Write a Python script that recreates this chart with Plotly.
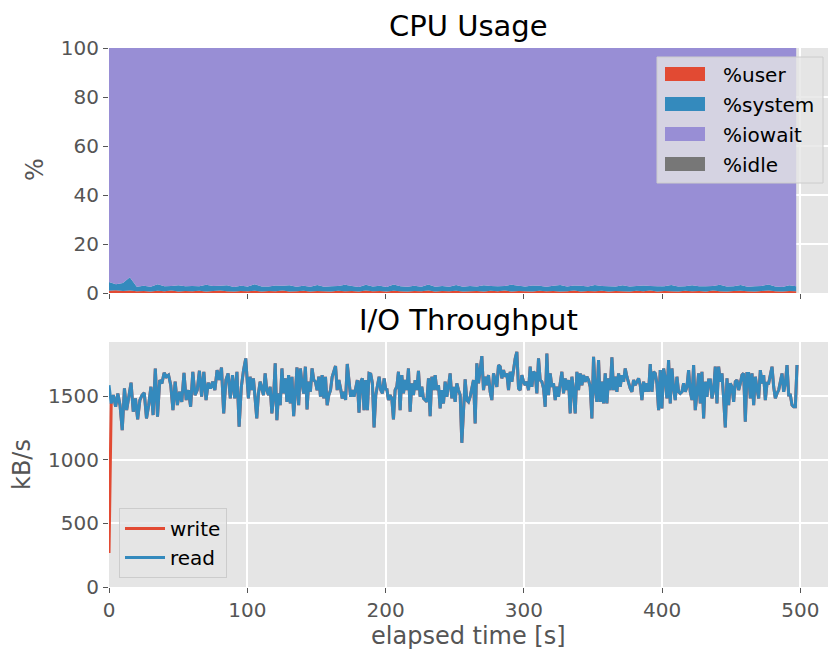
import numpy as np
import plotly.graph_objects as go

# ---------------- data ----------------
cpu_t_end = 497.0
cpu_user = [0.9,1.1,0.8,1.0,0.7,0.8,0.6,0.9,0.7,1.0, 0.6,0.8,0.7,0.9,0.6,0.8,1.0,0.7,0.6,0.8,
            0.7,0.9,0.6,0.8,0.7,1.0,0.6,0.7,0.9,0.6, 0.8,0.7,0.6,0.9,0.7,0.8,0.6,1.0,0.7,0.8,
            0.6,0.9,0.7,0.6,0.8,0.7,1.0,0.6,0.8,0.7, 0.9,0.6,0.7,0.8,0.6,0.9,0.7,1.0,0.6,0.8,
            0.7,0.6,0.9,0.7,0.8,0.6,0.7,1.0,0.6,0.8, 0.7,0.9,0.6,0.8,0.7,0.6,0.9,0.7,1.0,0.6,
            0.8,0.7,0.6,0.9,0.7,0.8,0.6,1.0,0.7,0.6, 0.8,0.9,0.7,0.6,0.8,1.0,0.7,0.6,0.8,0.7]
cpu_system = [3.6,2.5,3.3,5.4,1.9,2.2,2.0,2.7,2.1,1.9, 2.6,2.0,2.2,1.9,2.8,2.1,2.0,2.5,1.9,2.2,
              2.0,2.7,2.1,1.9,2.4,2.0,2.6,1.9,2.1,2.0, 2.5,1.9,2.2,2.0,2.7,2.1,1.9,2.4,2.0,2.2,
              1.9,2.6,2.1,2.0,2.2,1.9,2.5,2.0,2.1,1.9, 2.4,2.0,2.2,1.9,2.6,2.0,2.1,1.9,2.8,2.2,
              2.0,2.5,2.1,1.9,2.2,2.7,2.0,2.1,2.4,1.9, 2.6,2.0,2.2,1.9,2.5,2.1,2.0,2.4,1.9,2.2,
              2.0,2.6,2.1,1.9,2.5,2.0,2.2,1.9,2.7,2.1, 2.0,2.4,1.9,2.2,2.1,2.5,2.0,1.9,2.4,2.1]
cpu_idle = [0.0] * len(cpu_user)
cpu_iowait = [100.0 - u - s - i for u, s, i in zip(cpu_user, cpu_system, cpu_idle)]
cpu_names = ['%user', '%system', '%iowait', '%idle']

read_000_100 = [1586,1442,1508,1416,1521,1429,1233,1560,1390,1508,1605,1377,1482,1317,1469,1508,1526,1324,
                1429,1573,1351,1717,1338,1626,1600,1683,1652,1665,1586,1390,1613,1429,1534,1455,1683,1469,
                1547,1416,1691,1508,1547,1699,1495,1691,1469,1605,1560,1613,1547,1704,1626,1725,1364,1626,
                1678,1482,1665,1482,1691,1259,1573,1704,1796]
read_100_200 = [1678,1482,1652,1547,1639,1455,1324,1521,1613,1560,1508,1678,1547,1508,1573,1364,1482,1757,
                1311,1521,1429,1717,1521,1639,1455,1665,1442,1652,1343,1521,1725,1429,1717,1600,1521,1731,
                1395,1613,1534,1717,1626,1613,1547,1652,1495,1665,1482,1652,1429,1508,1547,1652,1691,1736,
                1547,1626,1560,1482,1534,1469,1752,1639,1495,1547,1495,1560,1626,1369,1613,1639,1390,1626,
                1390,1678,1673,1600,1254,1508,1573,1652,1547,1521,1639,1547]
read_200_300 = [1560,1469,1508,1482,1317,1547,1573,1691,1390,1665,1521,1626,1547,1717,1377,1600,1508,1626,
                1547,1699,1495,1573,1482,1469,1455,1639,1343,1652,1547,1665,1547,1586,1403,1547,1442,1613,
                1495,1579,1678,1482,1573,1455,1600,1547,1508,1133,1442,1631,1469,1455,1495,1560,1626,1285,
                1757,1600,1691,1814,1547,1652,1586,1665,1534,1469,1678,1613,1573,1744,1731,1639,1704,1652,
                1678,1547,1691,1613,1717,1796,1848,1560,1547,1665,1613,1586]
read_300_400 = [1613,1547,1731,1573,1691,1678,1521,1796,1626,1613,1560,1416,1835,1508,1678,1573,1600,1469,
                1573,1495,1600,1691,1521,1639,1547,1626,1364,1652,1547,1364,1691,1547,1678,1586,1665,1613,
                1652,1626,1573,1324,1809,1547,1455,1783,1455,1613,1442,1678,1442,1639,1547,1804,1547,1652,
                1534,1678,1573,1665,1613,1717,1652,1600,1560,1534,1626,1586,1613,1639,1586,1469,1613,1534,
                1600,1534,1752,1534,1691,1678,1600,1390,1704,1403,1717,1639]
read_400_500 = [1482,1783,1442,1717,1560,1469,1652,1534,1521,1534,1600,1534,1573,1704,1534,1469,1744,1390,
                1521,1678,1442,1691,1324,1613,1495,1626,1626,1482,1547,1731,1442,1731,1613,1678,1482,1254,
                1639,1429,1600,1573,1455,1613,1626,1547,1600,1665,1678,1298,1678,1678,1482,1678,1429,1652,
                1560,1482,1704,1600,1665,1469,1600,1600,1665,1731,1573,1482,1521,1547,1613,1678,1534,1600,
                1744,1508,1508,1429,1416,1416,1744]
read_blocks = [read_000_100, read_100_200, read_200_300, read_300_400, read_400_500]
block_t_start = [0.0, 99.6, 200.9, 302.2, 403.5]
block_t_end = [98.9, 200.2, 301.0, 402.3, 497.6]
write_start_kbs = 267

# ---------------- build ----------------
cpu_t = np.linspace(0, cpu_t_end, len(cpu_user))
io_t = np.concatenate([np.linspace(a, b, len(blk)) for a, b, blk in zip(block_t_start, block_t_end, read_blocks)])
read_kbs = np.concatenate([np.array(b, dtype=float) for b in read_blocks])
write_kbs = read_kbs.copy()
write_kbs[0] = write_start_kbs

RED, BLUE, PURPLE, GRAY = '#E24A33', '#348ABD', '#988ED5', '#777777'
cpu_colors = [RED, BLUE, PURPLE, GRAY]
FONT = 'DejaVu Sans'
TICKC = '#555555'

fig = go.Figure()
for name, vals, col in zip(cpu_names, [cpu_user, cpu_system, cpu_iowait, cpu_idle], cpu_colors):
    fig.add_trace(go.Scatter(x=cpu_t, y=vals, name=name, stackgroup='cpu', mode='none',
                             fillcolor=col, xaxis='x', yaxis='y', showlegend=False))

fig.add_trace(go.Scatter(x=io_t, y=write_kbs, name='write', mode='lines',
                         line=dict(color=RED, width=3), xaxis='x2', yaxis='y2', legend='legend2'))
fig.add_trace(go.Scatter(x=io_t, y=read_kbs, name='read', mode='lines',
                         line=dict(color=BLUE, width=3), xaxis='x2', yaxis='y2', legend='legend2'))

W, H = 829, 654
ML, MR, MT, MB = 109, 1, 48, 67
PH = H - MT - MB
PW = W - ML - MR
def py(pix):
    return (H - MB - pix) / PH
def px(pix):
    return (pix - ML) / PW

axis_common = dict(showgrid=True, gridcolor='white', gridwidth=1.6, zeroline=False,
                   ticks='outside', ticklen=5, tickwidth=1.2, tickcolor=TICKC,
                   tickfont=dict(family=FONT, size=20, color=TICKC), showline=False)

fig.update_layout(
    width=W, height=H, margin=dict(l=ML, r=MR, t=MT, b=MB),
    paper_bgcolor='white', plot_bgcolor='#E5E5E5',
    font=dict(family=FONT, color=TICKC),
    xaxis=dict(domain=[0, 1], anchor='y', range=[0, 520], tickvals=[0, 100, 200, 300, 400, 500],
               showticklabels=False, matches='x2', **axis_common),
    yaxis=dict(domain=[py(293), 1], anchor='x', range=[0, 100], tickvals=[0, 20, 40, 60, 80, 100],
               **axis_common),
    xaxis2=dict(domain=[0, 1], anchor='y2', range=[0, 520], tickvals=[0, 100, 200, 300, 400, 500],
                **axis_common),
    yaxis2=dict(domain=[0, py(342)], anchor='x2', range=[0, 1925], tickvals=[0, 500, 1000, 1500],
                **axis_common),
    legend2=dict(x=px(119), y=py(578), xanchor='left', yanchor='bottom',
                 bgcolor='rgba(229,229,229,0.8)', bordercolor='#CCCCCC', borderwidth=1,
                 font=dict(family=FONT, size=20, color='black'), itemwidth=40, traceorder='normal'),
    showlegend=True,
)

# manual legend for the stacked-area panel (filled patches)
shapes = [dict(type='rect', xref='paper', yref='paper', layer='above',
               x0=px(657), x1=px(823), y0=py(183), y1=py(57),
               fillcolor='rgba(229,229,229,0.8)', line=dict(color='#CCCCCC', width=1))]
ann = []
for i, (name, col) in enumerate(zip(cpu_names, cpu_colors)):
    yc = 74 + 30 * i
    shapes.append(dict(type='rect', xref='paper', yref='paper', layer='above',
                       x0=px(665), x1=px(705), y0=py(yc + 7), y1=py(yc - 7),
                       fillcolor=col, line=dict(width=0)))
    ann.append(dict(text=name, x=px(721), y=py(yc + 1), xref='paper', yref='paper', showarrow=False,
                    font=dict(family=FONT, size=20, color='black'), xanchor='left', yanchor='middle'))

ann += [
    dict(text='CPU Usage', x=0.5, y=py(26), xref='paper', yref='paper', showarrow=False,
         font=dict(family=FONT, size=29, color='black'), xanchor='center', yanchor='middle'),
    dict(text='I/O Throughput', x=0.5, y=py(320), xref='paper', yref='paper', showarrow=False,
         font=dict(family=FONT, size=29, color='black'), xanchor='center', yanchor='middle'),
    dict(text='elapsed time [s]', x=0.5, y=py(636), xref='paper', yref='paper', showarrow=False,
         font=dict(family=FONT, size=24, color=TICKC), xanchor='center', yanchor='middle'),
    dict(text='%', x=px(35), y=py(170), xref='paper', yref='paper', showarrow=False, textangle=-90,
         font=dict(family=FONT, size=24, color=TICKC), xanchor='center', yanchor='middle'),
    dict(text='kB/s', x=px(22), y=py(465), xref='paper', yref='paper', showarrow=False, textangle=-90,
         font=dict(family=FONT, size=24, color=TICKC), xanchor='center', yanchor='middle'),
]
fig.update_layout(annotations=ann, shapes=shapes)

fig.write_html('out.html')
